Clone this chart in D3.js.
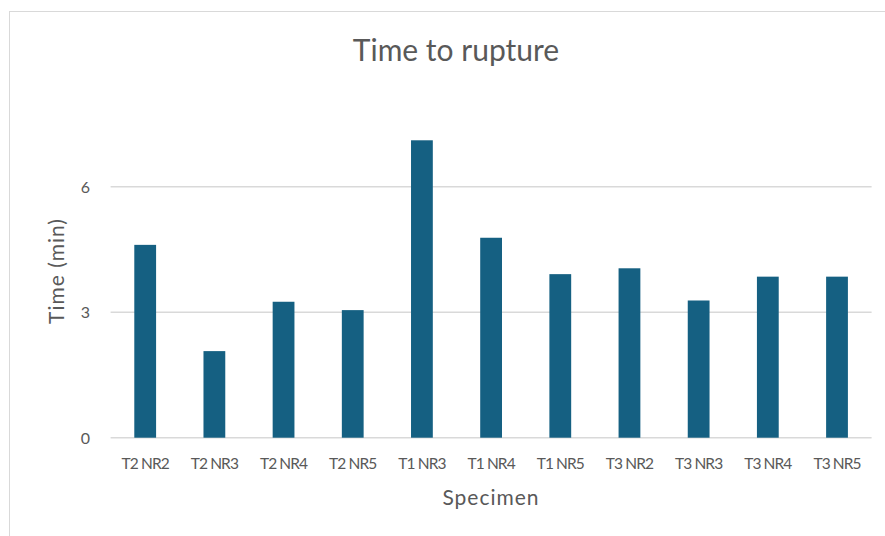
<!DOCTYPE html>
<html>
<head>
<meta charset="utf-8">
<script src="https://cdn.jsdelivr.net/npm/d3@7"></script>
<style>
  html, body { margin: 0; padding: 0; background: #fff; }
  svg { display: block; }
</style>
</head>
<body>
<svg id="chart" width="885" height="536"></svg>
<script>
// Rupture times per specimen
const specimens = ["T2 NR2", "T2 NR3", "T2 NR4", "T2 NR5", "T1 NR3", "T1 NR4", "T1 NR5", "T3 NR2", "T3 NR3", "T3 NR4", "T3 NR5"];
const times = [4.61, 2.07, 3.25, 3.05, 7.11, 4.78, 3.91, 4.05, 3.28, 3.85, 3.85];
const yTicks = [0, 3, 6];

const svg = d3.select("#chart");
const font = "Lato, 'Open Sans', sans-serif";
const textColor = "#595959";

// chart frame
svg.append("rect")
  .attr("x", 9.5).attr("y", 11.5)
  .attr("width", 900).attr("height", 560)
  .attr("fill", "#fff").attr("stroke", "#d9d9d9").attr("stroke-width", 1);

const plot = { left: 110.6, right: 871.6, bottom: 437.7 };

const x = d3.scaleBand()
  .domain(specimens)
  .range([plot.left, plot.right])
  .paddingInner(0.685)
  .paddingOuter(0.3425);

const y = d3.scaleLinear()
  .domain([0, 7.12])
  .range([plot.bottom, plot.bottom - 7.12 * 41.83]);

// horizontal gridlines
svg.append("g")
  .selectAll("line")
  .data(yTicks)
  .join("line")
  .attr("x1", plot.left).attr("x2", plot.right)
  .attr("y1", d => y(d)).attr("y2", d => y(d))
  .attr("stroke", "#d9d9d9").attr("stroke-width", 1.5);

// y tick labels
const yAxis = d3.axisLeft(y).tickValues(yTicks).tickSize(0).tickPadding(0).tickFormat(d3.format("d"));
const yg = svg.append("g").attr("transform", `translate(${plot.left - 20.6},0)`).call(yAxis);
yg.select(".domain").remove();
yg.selectAll("text")
  .attr("fill", textColor).attr("font-family", font).attr("font-size", 16)
  .attr("dy", "0.36em");

// bars
svg.append("g")
  .selectAll("rect")
  .data(specimens.map((s, i) => ({ s, v: times[i] })))
  .join("rect")
  .attr("x", d => x(d.s))
  .attr("y", d => y(d.v))
  .attr("width", x.bandwidth())
  .attr("height", d => y(0) - y(d.v))
  .attr("fill", "#156082");

// x tick labels
const xAxis = d3.axisBottom(x).tickSize(0).tickPadding(0);
const xg = svg.append("g").attr("transform", `translate(0,${plot.bottom + 20})`).call(xAxis);
xg.select(".domain").remove();
xg.selectAll("text")
  .attr("fill", textColor).attr("font-family", font).attr("font-size", 15.5)
  .attr("letter-spacing", -0.9)
  .attr("dy", "0.74em");

// title
svg.append("text")
  .attr("x", 456).attr("y", 61)
  .attr("text-anchor", "middle")
  .attr("fill", textColor).attr("font-family", font).attr("font-size", 30)
  .text("Time to rupture");

// axis titles
svg.append("text")
  .attr("x", 491).attr("y", 505)
  .attr("text-anchor", "middle")
  .attr("fill", textColor).attr("font-family", font).attr("font-size", 21)
  .attr("letter-spacing", 1)
  .text("Specimen");

svg.append("text")
  .attr("transform", "translate(64,271) rotate(-90)")
  .attr("text-anchor", "middle")
  .attr("fill", textColor).attr("font-family", font).attr("font-size", 21)
  .attr("letter-spacing", 1)
  .text("Time (min)");
</script>
</body>
</html>
